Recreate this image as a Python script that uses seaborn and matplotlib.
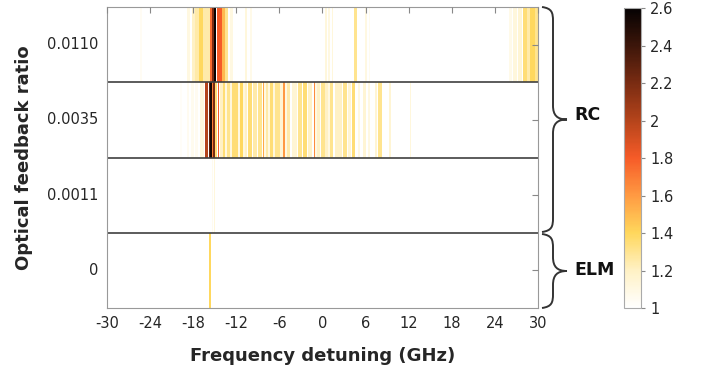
import numpy as np
import pandas as pd
import matplotlib
matplotlib.use("Agg")
import matplotlib.pyplot as plt
from matplotlib.colors import LinearSegmentedColormap
from matplotlib.path import Path
from matplotlib.patches import PathPatch
import seaborn as sns

# Row labels (optical feedback ratio), top to bottom
row_labels = ["0.0110", "0.0035", "0.0011", "0"]

# Bands of enhancement per row: (start GHz, end GHz, value)
rc_0110_bands = [
    (-25.4, -25.1, 1.04), (-18.9, -18.4, 1.10), (-18.2, -17.7, 1.20),
    (-17.7, -17.2, 1.25), (-17.2, -16.6, 1.40), (-16.6, -15.65, 1.25),
    (-15.65, -15.4, 1.75), (-15.35, -15.1, 2.20), (-15.1, -14.8, 2.60),
    (-14.7, -14.0, 1.80), (-14.0, -13.6, 1.50), (-13.6, -13.1, 1.30),
    (-12.9, -12.45, 1.10), (-11.8, -11.7, 1.10), (-10.8, -10.5, 1.12),
    (-10.1, -9.8, 1.08),
    (0.36, 0.65, 1.12), (0.8, 1.05, 1.10), (1.3, 1.5, 1.12), (2.25, 2.35, 1.08),
    (4.4, 4.8, 1.30), (5.9, 6.2, 1.10), (6.5, 6.6, 1.06), (8.25, 8.35, 1.06),
    (8.65, 8.75, 1.04),
    (26.0, 26.4, 1.08), (26.5, 27.1, 1.12), (27.2, 27.8, 1.15),
    (27.9, 28.5, 1.35), (28.5, 28.9, 1.25), (28.9, 29.6, 1.40), (29.6, 30.0, 1.30),
]

rc_0035_bands = [
    (-19.8, -19.5, 1.03), (-18.9, -18.6, 1.05), (-18.3, -17.9, 1.06),
    (-17.7, -17.3, 1.05), (-17.0, -16.5, 1.12),
    (-16.35, -15.9, 2.00), (-15.85, -15.65, 2.30), (-15.6, -15.4, 2.55),
    (-15.35, -15.25, 1.70), (-15.2, -15.0, 2.20), (-15.0, -14.7, 1.35),
    (-14.55, -14.4, 1.80), (-14.3, -13.9, 1.20), (-13.8, -13.6, 1.35),
    (-13.6, -13.3, 1.10), (-13.3, -12.9, 1.30), (-12.9, -12.6, 1.12),
    (-12.6, -11.8, 1.35), (-11.8, -11.5, 1.10), (-11.5, -11.1, 1.40),
    (-11.1, -10.8, 1.12), (-10.8, -10.5, 1.20), (-10.4, -9.8, 1.35),
    (-9.7, -9.1, 1.25), (-9.0, -8.4, 1.30), (-8.3, -8.1, 1.55),
    (-8.1, -7.9, 1.10), (-7.9, -7.6, 1.25), (-7.6, -7.3, 1.10),
    (-7.3, -6.9, 1.35), (-6.9, -6.6, 1.12), (-6.6, -5.9, 1.30),
    (-5.9, -5.45, 1.15), (-5.45, -5.25, 1.60), (-5.25, -4.9, 1.10),
    (-4.9, -4.5, 1.25), (-4.2, -3.5, 1.15), (-3.4, -2.8, 1.30),
    (-2.7, -2.1, 1.35), (-2.0, -1.4, 1.20), (-1.25, -1.1, 1.65),
    (-1.1, -0.8, 1.10), (-0.8, -0.3, 1.20), (-0.2, 0.3, 1.30), (0.4, 0.8, 1.20),
    (0.8, 1.1, 1.10), (1.1, 1.5, 1.30), (1.8, 2.7, 1.20), (2.9, 3.4, 1.30),
    (3.6, 4.0, 1.15), (4.1, 4.5, 1.35), (5.0, 5.2, 1.10), (5.7, 6.1, 1.15),
    (6.4, 6.6, 1.10), (7.3, 7.6, 1.15), (7.7, 8.3, 1.30), (9.3, 9.6, 1.15),
    (12.15, 12.3, 1.12),
]

rc_0011_bands = [
    (-15.4, -15.2, 1.06), (-15.15, -15.0, 1.12),
]

elm_bands = [
    (-15.8, -15.5, 1.40),
]

freq_ticks = [-30, -24, -18, -12, -6, 0, 6, 12, 18, 24, 30]
cbar_ticks = [1, 1.2, 1.4, 1.6, 1.8, 2, 2.2, 2.4, 2.6]

# Build the grid of values
step = 0.05
edges = np.arange(-30, 30 + step / 2, step)
centers = (edges[:-1] + edges[1:]) / 2
grid = np.ones((len(row_labels), len(centers)))
for r, bands in enumerate([rc_0110_bands, rc_0035_bands, rc_0011_bands, elm_bands]):
    for a, b, v in bands:
        m = (centers >= a) & (centers < b)
        if not m.any():
            m = np.zeros_like(m)
            m[np.argmin(np.abs(centers - (a + b) / 2))] = True
        grid[r, m] = np.maximum(grid[r, m], v)

df = pd.DataFrame(grid, index=row_labels, columns=np.round(centers, 3))

cmap = LinearSegmentedColormap.from_list("gain", [
    (0.0, "#ffffff"), (0.125, "#fff1c4"), (0.25, "#ffd75c"),
    (0.375, "#ff9a42"), (0.5, "#f65b28"), (0.625, "#b5441b"),
    (0.75, "#7a2c12"), (0.875, "#3d160a"), (1.0, "#050202"),
])

sns.set_style("white")
plt.rcParams['font.family'] = ['DejaVu Sans']
fig = plt.figure(figsize=(7.02, 3.68), dpi=100)
ax = fig.add_axes([0.1524, 0.163, 0.614, 0.818])
cax = fig.add_axes([0.889, 0.163, 0.0242, 0.815])

sns.heatmap(df, ax=ax, cbar_ax=cax, cmap=cmap, vmin=1, vmax=2.6,
            xticklabels=False, yticklabels=row_labels,
            cbar_kws={'ticks': cbar_ticks, 'format': '%g'})

# x ticks in GHz mapped to column positions
ax.set_xticks([(f + 30) / step for f in freq_ticks])
ax.set_xticklabels([str(f) for f in freq_ticks])
ax.set_yticklabels(row_labels, rotation=0)
ax.set_axisbelow(False)
ax.tick_params(axis='both', direction='in', length=4, width=0.8, color='#888888',
               top=True, right=True, labelsize=10.5, labelcolor='#262626', pad=6)
for s in ax.spines.values():
    s.set_visible(True)
    s.set_color('#999999')
    s.set_linewidth(0.8)
for yy in [1, 2, 3]:
    ax.axhline(yy, color='#404040', lw=1.2)

ax.set_xlabel("Frequency detuning (GHz)", fontsize=13, fontweight='bold', color='#262626', labelpad=11)
ax.set_ylabel("Optical feedback ratio", fontsize=13, fontweight='bold', color='#262626', labelpad=10)

cax.tick_params(labelsize=10.5, labelcolor='#262626', length=3, color='#888888')
cbar = ax.collections[0].colorbar
cbar.outline.set_edgecolor('#aaaaaa')
cbar.outline.set_linewidth(0.8)

# overlay for braces in pixel coordinates
ov = fig.add_axes([0, 0, 1, 1])
ov.set_xlim(0, 702)
ov.set_ylim(368, 0)
ov.axis('off')
ov.patch.set_alpha(0)


def brace(y0, y1, x0=542, xm=553, xt=567, r=14):
    ym = (y0 + y1) / 2
    verts = [(x0, y0),
             (x0 + (xm - x0) * 0.9, y0 + r * 0.1), (xm, y0 + r * 0.4), (xm, y0 + r),
             (xm, ym - r),
             (xm, ym - r * 0.3), (xm + (xt - xm) * 0.3, ym), (xt, ym),
             (xm + (xt - xm) * 0.3, ym), (xm, ym + r * 0.3), (xm, ym + r),
             (xm, y1 - r),
             (xm, y1 - r * 0.4), (x0 + (xm - x0) * 0.9, y1 - r * 0.1), (x0, y1)]
    codes = [Path.MOVETO,
             Path.CURVE4, Path.CURVE4, Path.CURVE4,
             Path.LINETO,
             Path.CURVE4, Path.CURVE4, Path.CURVE4,
             Path.CURVE4, Path.CURVE4, Path.CURVE4,
             Path.LINETO,
             Path.CURVE4, Path.CURVE4, Path.CURVE4]
    ov.add_patch(PathPatch(Path(verts, codes), fill=False, lw=1.4, ec='#333333'))
    return ym


ym_rc = brace(7, 232)
ym_elm = brace(234, 308)
ov.text(574, 115, "RC", fontsize=12.5, fontweight='bold', va='center', ha='left', color='#111111')
ov.text(574, 270, "ELM", fontsize=12.5, fontweight='bold', va='center', ha='left', color='#111111')

fig.savefig("out.png", dpi=100)
